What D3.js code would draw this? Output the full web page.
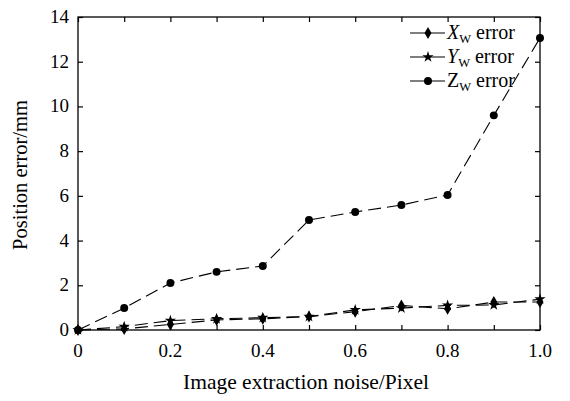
<!DOCTYPE html>
<html>
<head>
	<meta charset="utf-8">
	<title>Position error vs noise</title>
	<script src="https://d3js.org/d3.v7.min.js"></script>
	<style>
		body { margin: 0; background: #fff; }
	</style>
</head>
<body>
<div id="chart"></div>
<script>
	// data
	var noise = [0, 0.1, 0.2, 0.3, 0.4, 0.5, 0.6, 0.7, 0.8, 0.9, 1.0];
	var xErr = [0, 0.05, 0.25, 0.45, 0.5, 0.6, 0.82, 1.1, 0.95, 1.25, 1.25];
	var yErr = [0, 0.15, 0.42, 0.5, 0.55, 0.6, 0.9, 0.98, 1.1, 1.12, 1.38];
	var zErr = [0, 0.98, 2.1, 2.6, 2.86, 4.92, 5.28, 5.59, 6.04, 9.6, 13.06];
	var xTicks = [0, 0.2, 0.4, 0.6, 0.8, 1.0];
	var xMinor = [0, 0.1, 0.2, 0.3, 0.4, 0.5, 0.6, 0.7, 0.8, 0.9, 1.0];
	var yTicks = [0, 2, 4, 6, 8, 10, 12, 14];
	var seriesNames = ["X", "Y", "Z"];

	var width = 570,
		height = 401;
	var margin = {left: 78, right: 30, top: 17, bottom: 71};
	var serif = "'Liberation Serif', 'Times New Roman', Times, serif";

	var svg = d3.select("#chart").append("svg")
		.attr("width", width)
		.attr("height", height)
		.attr("font-family", serif);

	var x = d3.scaleLinear().domain([0, 1]).range([margin.left, width - margin.right]);
	var y = d3.scaleLinear().domain([0, 14]).range([height - margin.bottom, margin.top]);

	var x0 = x(0), x1 = x(1), y0 = y(0), y1 = y(14);

	// inward ticks on all four sides
	svg.append("g").attr("transform", "translate(0," + y0 + ")")
		.call(d3.axisBottom(x).tickValues(xMinor).tickSize(-5).tickFormat(""));
	svg.append("g").attr("transform", "translate(0," + y1 + ")")
		.call(d3.axisTop(x).tickValues(xMinor).tickSize(-5).tickFormat(""));
	svg.append("g").attr("transform", "translate(" + x0 + ",0)")
		.call(d3.axisLeft(y).tickValues(yTicks).tickSize(-5).tickFormat(""));
	svg.append("g").attr("transform", "translate(" + x1 + ",0)")
		.call(d3.axisRight(y).tickValues(yTicks).tickSize(-5).tickFormat(""));
	svg.selectAll(".domain").remove();
	svg.selectAll(".tick line").attr("stroke", "#000").attr("stroke-width", 1.2);

	// frame
	svg.append("rect")
		.attr("x", x0).attr("y", y1)
		.attr("width", x1 - x0).attr("height", y0 - y1)
		.attr("fill", "none").attr("stroke", "#000").attr("stroke-width", 1.3);

	// tick labels
	svg.selectAll(".xl").data(xTicks).enter().append("text")
		.attr("x", function(d) { return x(d); })
		.attr("y", y0 + 27)
		.attr("text-anchor", "middle")
		.attr("font-family", serif)
		.style("font-size", "19px")
		.text(function(d) { return d == 0 ? "0" : d.toFixed(1); });
	svg.selectAll(".yl").data(yTicks).enter().append("text")
		.attr("x", x0 - 9)
		.attr("y", function(d) { return y(d) + 6; })
		.attr("text-anchor", "end")
		.attr("font-family", serif)
		.style("font-size", "19px")
		.text(function(d) { return d; });

	// axis titles
	svg.append("text")
		.attr("x", 306)
		.attr("y", 389)
		.attr("text-anchor", "middle")
		.attr("font-family", serif)
		.style("font-size", "21.5px")
		.text("Image extraction noise/Pixel");
	svg.append("text")
		.attr("transform", "translate(27,175) rotate(-90)")
		.attr("text-anchor", "middle")
		.attr("font-family", serif)
		.style("font-size", "20.5px")
		.text("Position error/mm");

	// series
	var line = d3.line()
		.x(function(d, i) { return x(noise[i]); })
		.y(function(d) { return y(d); });

	var dash = "13,6";
	var series = [
		{name: "X", values: xErr, symbol: d3.symbolDiamond, size: 42, italic: true},
		{name: "Y", values: yErr, symbol: d3.symbolStar, size: 40, italic: true},
		{name: "Z", values: zErr, symbol: d3.symbolCircle, size: 50, italic: false}
	];

	series.forEach(function(s) {
		svg.append("path")
			.attr("d", line(s.values))
			.attr("fill", "none")
			.attr("stroke", "#000")
			.attr("stroke-width", 1.1)
			.attr("stroke-dasharray", dash);
		svg.selectAll(null).data(s.values).enter().append("path")
			.attr("transform", function(d, i) { return "translate(" + x(noise[i]) + "," + y(d) + ")"; })
			.attr("d", d3.symbol().type(s.symbol).size(s.size))
			.attr("fill", "#000");
	});

	// legend
	var lg = svg.append("g");
	series.forEach(function(s, i) {
		var ly = 33 + i * 24;
		lg.append("line")
			.attr("x1", 410).attr("x2", 445)
			.attr("y1", ly).attr("y2", ly)
			.attr("stroke", "#000").attr("stroke-width", 1.1);
		lg.append("path")
			.attr("transform", "translate(428," + ly + ")")
			.attr("d", d3.symbol().type(s.symbol).size(s.size))
			.attr("fill", "#000");
		var t = lg.append("text")
			.attr("x", 447)
			.attr("y", ly + 6)
			.attr("font-family", serif)
			.style("font-size", "20px");
		t.append("tspan").style("font-style", s.italic ? "italic" : "normal").text(s.name);
		t.append("tspan").attr("dy", 4).style("font-size", "12.5px").text("W");
		t.append("tspan").attr("dy", -4).text(" error");
	});
</script>
</body>
</html>
